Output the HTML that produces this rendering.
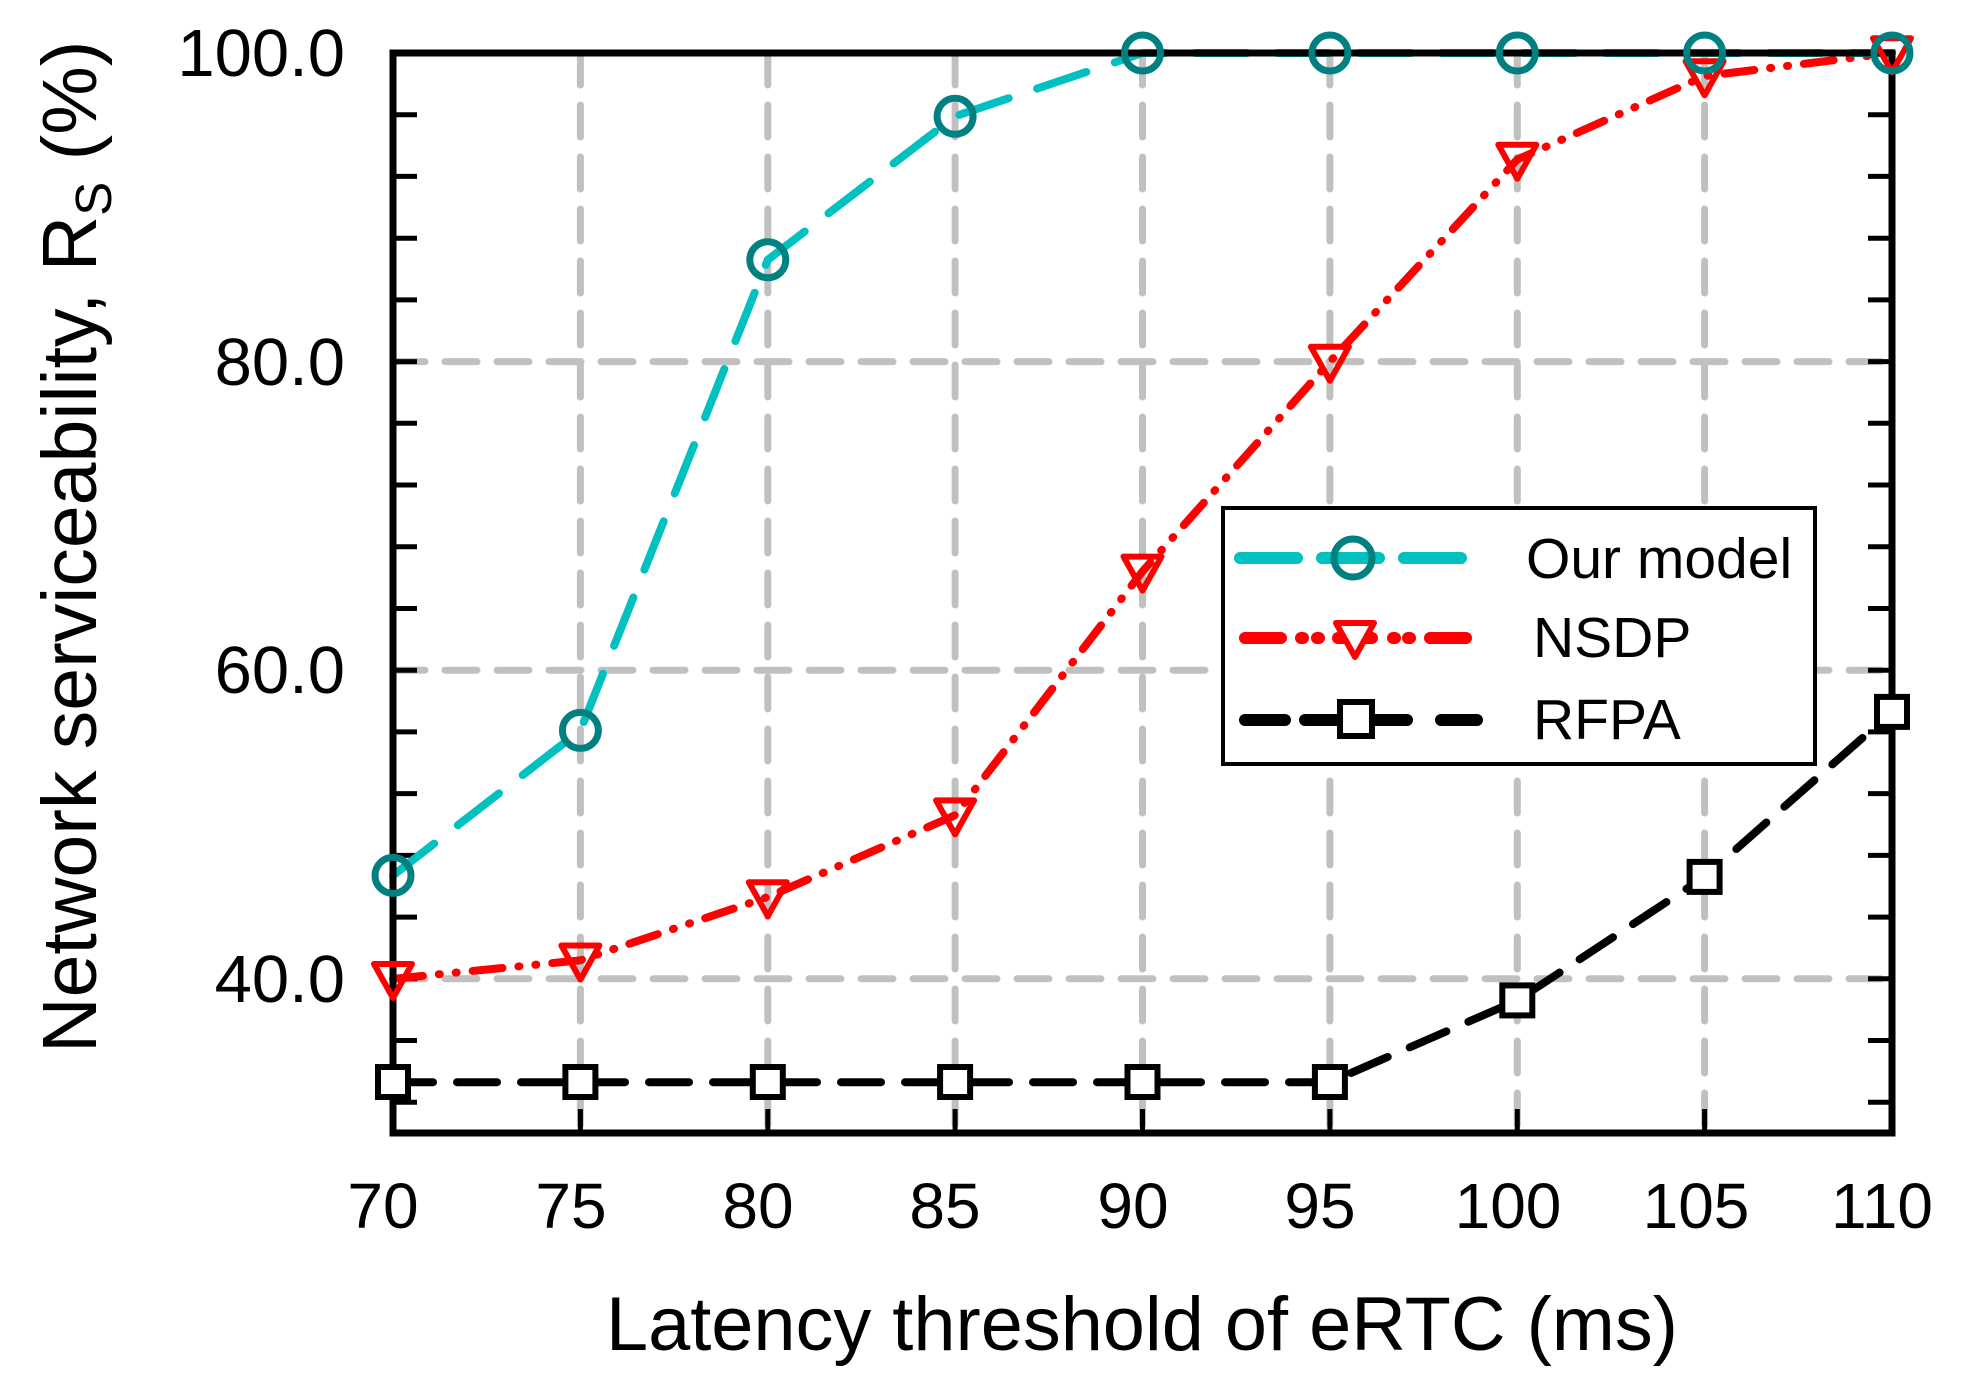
<!DOCTYPE html>
<html><head><style>html,body{margin:0;padding:0;background:#fff}svg{display:block}</style></head>
<body>
<svg width="1968" height="1386" viewBox="0 0 1968 1386" xmlns="http://www.w3.org/2000/svg" font-family="Liberation Sans, Arial, sans-serif">
<rect width="1968" height="1386" fill="#fff"/>
<g stroke="#c0c0c0" stroke-width="7" stroke-dasharray="32,20" stroke-linecap="round">
<line x1="580.4" y1="53" x2="580.4" y2="1133"/>
<line x1="767.8" y1="53" x2="767.8" y2="1133"/>
<line x1="955.1" y1="53" x2="955.1" y2="1133"/>
<line x1="1142.5" y1="53" x2="1142.5" y2="1133"/>
<line x1="1329.9" y1="53" x2="1329.9" y2="1133"/>
<line x1="1517.3" y1="53" x2="1517.3" y2="1133"/>
<line x1="1704.6" y1="53" x2="1704.6" y2="1133"/>
<line x1="393" y1="361.6" x2="1892" y2="361.6"/>
<line x1="393" y1="670.2" x2="1892" y2="670.2"/>
<line x1="393" y1="978.8" x2="1892" y2="978.8"/>
</g>
<g stroke="#000" stroke-width="5">
<path d="M393 114.7h24M393 176.4h24M393 238.2h24M393 299.9h24M393 361.6h24M393 423.3h24M393 485h24M393 546.8h24M393 608.5h24M393 670.2h24M393 731.9h24M393 793.6h24M393 855.4h24M393 917.1h24M393 978.8h24M393 1040.5h24M393 1102.2h24"/>
<path d="M1892 114.7h-24M1892 176.4h-24M1892 238.2h-24M1892 299.9h-24M1892 361.6h-24M1892 423.3h-24M1892 485h-24M1892 546.8h-24M1892 608.5h-24M1892 670.2h-24M1892 731.9h-24M1892 793.6h-24M1892 855.4h-24M1892 917.1h-24M1892 978.8h-24M1892 1040.5h-24M1892 1102.2h-24"/>
<path d="M580.4 1133v-24M767.8 1133v-24M955.1 1133v-24M1142.5 1133v-24M1329.9 1133v-24M1517.3 1133v-24M1704.6 1133v-24"/>
</g>
<polyline fill="none" stroke="#000" stroke-width="8" stroke-linecap="round" stroke-dasharray="40,24" points="393,1082.2 580.4,1082.2 767.8,1082.2 955.1,1082.2 1142.5,1082.2 1329.9,1082.2 1517.3,1000.4 1704.6,876.9 1892,711.9"/>
<polyline fill="none" stroke="#ff0000" stroke-width="8" stroke-linecap="round" stroke-dasharray="30,16,1,16,1,16" points="393,978.8 580.4,960.3 767.8,897 955.1,815.2 1142.5,571.4 1329.9,361.6 1517.3,159.5 1704.6,76.1 1892,53"/>
<polyline fill="none" stroke="#00c0c0" stroke-width="8" stroke-linecap="round" stroke-dasharray="52,30" points="393,875.4 580.4,730.4 767.8,259.8 955.1,116.3 1142.5,53 1329.9,53 1517.3,53 1704.6,53 1892,53"/>
<rect x="393" y="53" width="1499" height="1080" fill="none" stroke="#000" stroke-width="7"/>
<g fill="#fff" stroke="#000" stroke-width="6">
<rect x="378" y="1067" width="30" height="30"/><rect x="565.4" y="1067" width="30" height="30"/><rect x="752.8" y="1067" width="30" height="30"/><rect x="940.1" y="1067" width="30" height="30"/><rect x="1127.5" y="1067" width="30" height="30"/><rect x="1314.9" y="1067" width="30" height="30"/><rect x="1502.3" y="985.4" width="30" height="30"/><rect x="1689.6" y="861.9" width="30" height="30"/><rect x="1877" y="696.9" width="30" height="30"/>
</g>
<g fill="none" stroke="#ff0000" stroke-width="6" stroke-linejoin="round">
<path d="M374 964h38l-19 34z"/><path d="M561.4 945.5h38l-19 34z"/><path d="M748.8 882.2h38l-19 34z"/><path d="M936.1 800.4h38l-19 34z"/><path d="M1123.5 556.6h38l-19 34z"/><path d="M1310.9 346.8h38l-19 34z"/><path d="M1498.3 144.7h38l-19 34z"/><path d="M1685.6 61.3h38l-19 34z"/><path d="M1873 38.2h38l-19 34z"/>
</g>
<g fill="none" stroke="#008080" stroke-width="7">
<circle cx="393" cy="875.4" r="18"/><circle cx="580.4" cy="730.4" r="18"/><circle cx="767.8" cy="259.8" r="18"/><circle cx="955.1" cy="116.3" r="18"/><circle cx="1142.5" cy="53" r="18"/><circle cx="1329.9" cy="53" r="18"/><circle cx="1517.3" cy="53" r="18"/><circle cx="1704.6" cy="53" r="18"/><circle cx="1892" cy="53" r="18"/>
</g>
<rect x="1223" y="508" width="592" height="256" fill="#fff" stroke="#000" stroke-width="4"/>
<g stroke-linecap="round" stroke-width="12">
<path d="M1240 558h57M1322 558h57M1404 558h57" stroke="#00c0c0"/>
<path d="M1245 638h36M1301 638h2M1317 638h2M1338 638h34M1393 638h2M1408 638h2M1430 638h36" stroke="#ff0000"/>
<path d="M1245 720h40M1305 720h40M1367 720h40M1441 720h36" stroke="#000"/>
</g>
<circle cx="1353" cy="558" r="19" fill="none" stroke="#008080" stroke-width="7"/>
<path d="M1336 623h38l-19 34z" fill="#fff" stroke="#ff0000" stroke-width="6" stroke-linejoin="round"/>
<rect x="1340" y="702" width="32" height="34" fill="#fff" stroke="#000" stroke-width="6"/>
<g font-size="57" fill="#000">
<text x="1526" y="578">Our model</text>
<text x="1533" y="657">NSDP</text>
<text x="1533" y="739">RFPA</text>
</g>
<g font-size="67" fill="#000" text-anchor="end">
<text x="345" y="76">100.0</text>
<text x="345" y="385">80.0</text>
<text x="345" y="693">60.0</text>
<text x="345" y="1002">40.0</text>
</g>
<g font-size="64" fill="#000" text-anchor="middle">
<text x="383" y="1228">70</text><text x="571" y="1228">75</text><text x="758" y="1228">80</text><text x="945" y="1228">85</text><text x="1133" y="1228">90</text><text x="1320" y="1228">95</text><text x="1508" y="1228">100</text><text x="1696" y="1228">105</text><text x="1882" y="1228">110</text>
</g>
<text x="606" y="1350" font-size="76" textLength="1072" lengthAdjust="spacingAndGlyphs">Latency threshold of eRTC (ms)</text>
<text transform="translate(96,1053) rotate(-90)" font-size="77">Network serviceability, R<tspan font-size="51" dy="15">S</tspan><tspan dy="-15"> (%)</tspan></text>
</svg>
</body></html>
